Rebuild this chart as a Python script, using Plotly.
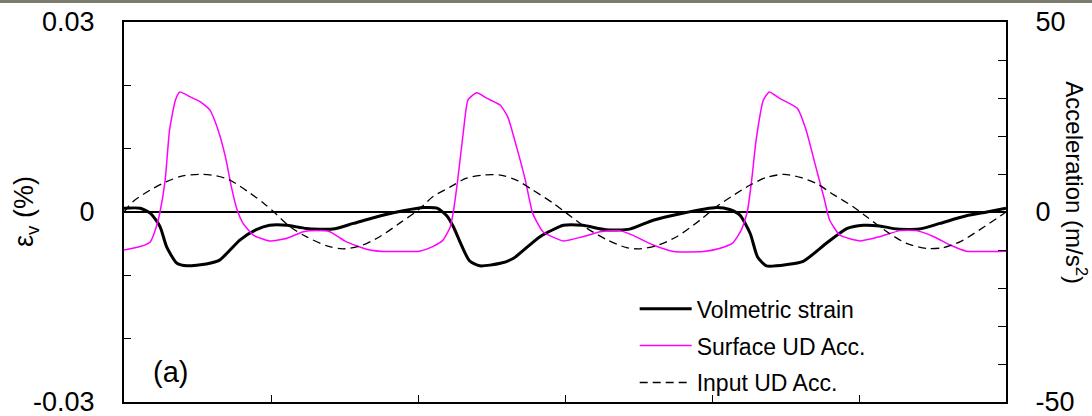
import plotly.graph_objects as go

# Volumetric strain (%), left axis
t_strain = [0.00, 0.11, 0.18, 0.245, 0.29, 0.36, 0.43, 0.56, 0.65, 0.79,
            0.90, 0.99, 1.11, 1.24, 1.42, 1.56, 1.76, 1.90, 2.04, 2.13,
            2.20, 2.24, 2.35, 2.42, 2.56, 2.65, 2.83, 2.99, 3.12, 3.28,
            3.44, 3.60, 3.80, 4.03, 4.12, 4.19, 4.26, 4.31, 4.37, 4.51,
            4.62, 4.78, 4.92, 5.03, 5.14, 5.26, 5.41, 5.55, 5.73, 5.87, 6.00]
strain = [0.0006, 0.0006, -0.0002, -0.0023, -0.0055, -0.0081, -0.0085, -0.0082, -0.0076, -0.0044,
          -0.0028, -0.0021, -0.0021, -0.0026, -0.0027, -0.0018, -0.0005, 0.0002, 0.0007, 0.0006,
          -0.0007, -0.0023, -0.0077, -0.0085, -0.0081, -0.0073, -0.0039, -0.0021, -0.0021, -0.0028,
          -0.0027, -0.0013, -0.0002, 0.0007, 0.0004, -0.0005, -0.0034, -0.0071, -0.0085, -0.0083,
          -0.0078, -0.0049, -0.0026, -0.0021, -0.0022, -0.0027, -0.0027, -0.0018, -0.0006, 0.0000, 0.0006]

# Surface UD acceleration (m/s2), right axis
t_surface = [0.00, 0.11, 0.18, 0.22, 0.245, 0.28, 0.31, 0.35, 0.38, 0.45,
             0.52, 0.585, 0.64, 0.69, 0.73, 0.77, 0.81, 0.88, 0.99, 1.11,
             1.22, 1.31, 1.40, 1.51, 1.65, 1.76, 1.88, 2.01, 2.10, 2.17,
             2.22, 2.24, 2.27, 2.31, 2.34, 2.40, 2.47, 2.56, 2.61, 2.67,
             2.73, 2.78, 2.85, 2.99, 3.12, 3.24, 3.37, 3.46, 3.60, 3.74,
             3.94, 4.05, 4.14, 4.20, 4.24, 4.27, 4.30, 4.35, 4.39, 4.46,
             4.58, 4.64, 4.70, 4.76, 4.80, 4.87, 5.01, 5.14, 5.28, 5.39,
             5.51, 5.62, 5.73, 6.00]
surface_acc = [-10.0, -9.1, -7.8, -3.9, 0.0, 8.4, 21.6, 29.5, 31.6, 30.3,
               29.0, 26.8, 21.6, 14.5, 6.7, 0.5, -3.0, -6.1, -7.6, -6.9,
               -5.2, -4.9, -5.2, -7.8, -9.8, -10.4, -10.4, -10.3, -9.1, -7.4,
               -3.9, 0.0, 8.4, 21.6, 29.5, 31.4, 29.9, 28.1, 25.1, 17.2,
               8.4, -0.3, -5.2, -7.6, -6.5, -5.2, -4.9, -6.1, -8.7, -10.4,
               -10.4, -9.6, -8.2, -4.7, 0.0, 8.4, 18.9, 29.5, 31.6, 29.9,
               27.3, 21.6, 12.8, 4.0, -2.1, -6.1, -7.6, -6.5, -4.9, -4.9,
               -6.5, -8.7, -10.3, -10.3]

# Input UD acceleration (m/s2), right axis
t_input = [0.00, 0.06, 0.18, 0.29, 0.40, 0.52, 0.63, 0.72, 0.86, 0.95,
           1.02, 1.13, 1.24, 1.38, 1.49, 1.61, 1.74, 1.88, 2.01, 2.10,
           2.22, 2.33, 2.44, 2.56, 2.67, 2.78, 2.92, 3.01, 3.15, 3.28,
           3.42, 3.51, 3.62, 3.76, 3.92, 4.03, 4.15, 4.26, 4.37, 4.49,
           4.60, 4.71, 4.83, 4.96, 5.05, 5.19, 5.32, 5.46, 5.57, 5.69,
           5.82, 5.96, 6.00]
input_acc = [0.0, 2.7, 5.8, 8.0, 9.5, 9.9, 9.5, 8.4, 4.9, 2.3,
             0.0, -3.9, -6.5, -8.9, -9.7, -8.9, -6.5, -2.8, 0.8, 4.0,
             6.6, 8.9, 9.7, 9.7, 8.4, 5.8, 2.3, -0.3, -4.3, -7.2,
             -9.4, -9.7, -8.9, -6.5, -2.1, 1.4, 4.5, 7.1, 9.1, 9.9,
             9.1, 7.5, 4.5, 1.4, -1.2, -5.2, -8.2, -9.6, -9.4, -7.8,
             -4.7, -1.1, 0.0]

left_ticks = [-0.03, -0.02, -0.01, 0.0, 0.01, 0.02, 0.03]
left_text = ["-0.03", "", "", "0", "", "", "0.03"]
right_ticks = [-50, -40, -30, -20, -10, 0, 10, 20, 30, 40, 50]
right_text = ["-50", "", "", "", "", "0", "", "", "", "", "50"]
x_ticks = [0, 1, 2, 3, 4, 5, 6]

FONT = "Liberation Sans, Arial, sans-serif"

fig = go.Figure()
fig.add_trace(go.Scatter(x=t_strain, y=strain, name="Volmetric strain", mode="lines",
                         line=dict(color="black", width=3, shape="spline", smoothing=0.6),
                         legendgroup="a", yaxis="y"))
fig.add_trace(go.Scatter(x=t_surface, y=surface_acc, name="Surface UD Acc.", mode="lines",
                         line=dict(color="#ff00ff", width=1.5, shape="spline", smoothing=0.5),
                         legendgroup="b", yaxis="y2"))
fig.add_trace(go.Scatter(x=t_input, y=input_acc, name="Input UD Acc.", mode="lines",
                         line=dict(color="black", width=1.3, dash="8px,5px", shape="spline", smoothing=0.8),
                         legendgroup="c", yaxis="y2"))

fig.update_layout(
    width=1092, height=416,
    margin=dict(l=124, r=86, t=22, b=14, autoexpand=False),
    paper_bgcolor="white", plot_bgcolor="white",
    font=dict(family=FONT, color="black", size=27),
    xaxis=dict(range=[0, 6], tickvals=x_ticks, showticklabels=False, ticks="inside",
               ticklen=7, tickwidth=1.3, tickcolor="black", showline=True, linecolor="black",
               linewidth=2, mirror=True, showgrid=False, zeroline=False, automargin=False),
    yaxis=dict(range=[-0.03, 0.03], tickvals=left_ticks, ticktext=left_text, ticks="inside",
               ticklen=7, tickwidth=1.3, tickcolor="black", showline=True, linecolor="black",
               linewidth=2, showgrid=False, zeroline=True, zerolinecolor="black",
               zerolinewidth=1.5, ticklabelstandoff=22, tickfont=dict(size=27), automargin=False,
               ticklabeloverflow="allow"),
    yaxis2=dict(range=[-50, 50], tickvals=right_ticks, ticktext=right_text, ticks="inside",
                ticklen=8, tickwidth=1.3, tickcolor="black", showline=True, linecolor="black",
                linewidth=2, showgrid=False, zeroline=False, overlaying="y", side="right",
                ticklabelstandoff=22, tickfont=dict(size=27), automargin=False,
                ticklabeloverflow="allow"),
    showlegend=True,
    legend=dict(x=0.579, y=0.302, xanchor="left", yanchor="top", bgcolor="rgba(0,0,0,0)",
                font=dict(size=23, family=FONT), itemwidth=52, tracegroupgap=4,
                traceorder="grouped"),
    annotations=[
        dict(text="ε<sub>v</sub> (%)", xref="paper", yref="paper", x=-0.111, y=0.5,
             textangle=-90, showarrow=False, font=dict(size=27), xanchor="center", yanchor="middle"),
        dict(text="Acceleration (m/s<sup>2</sup>)", xref="paper", yref="paper", x=1.0794, y=0.578,
             textangle=90, showarrow=False, font=dict(size=24), xanchor="center", yanchor="middle"),
        dict(text="(a)", xref="paper", yref="paper", x=0.053, y=0.079, showarrow=False,
             font=dict(size=29), xanchor="center", yanchor="middle"),
    ],
    shapes=[dict(type="rect", xref="paper", yref="paper", x0=-0.2, x1=1.2, y0=1.050, y1=1.07,
                 fillcolor="#7b7c6d", line=dict(width=0), layer="above")],
)

fig.write_html("out.html")
